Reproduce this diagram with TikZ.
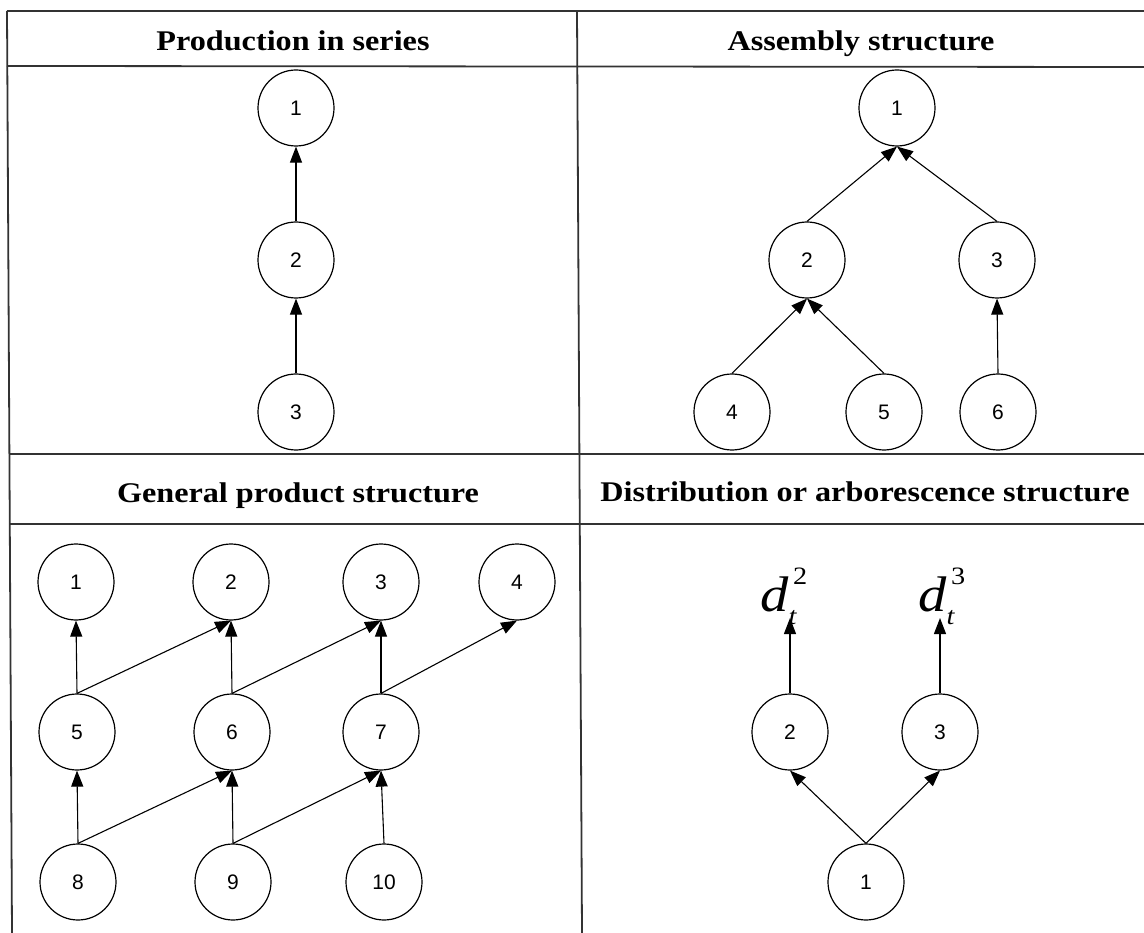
\documentclass[tikz,border=0pt]{standalone}
\usepackage{fontspec}
\usepackage{graphicx}
\setmainfont{Liberation Serif}
\setsansfont{Liberation Sans}
\usetikzlibrary{arrows.meta}

\tikzset{
    station/.style={circle, draw, line width=1.2pt, minimum size=76pt, inner sep=0pt,
        font=\sffamily\fontsize{21}{23}\selectfont},
    arr/.style={-{Triangle[length=16pt,width=12pt]}, line width=1.1pt},
    tableline/.style={line width=1.8pt, black!80},
    head/.style={anchor=base, inner sep=0pt, font=\fontsize{28.5}{32}\selectfont\bfseries},
    demand/.style={anchor=base west, inner sep=0pt, font=\fontsize{50}{54}\selectfont}
}
% stretched text, as in the scanned table
\newcommand{\wide}[1]{\scalebox{1.13}[1]{#1}}
% demand label d_t^k
\newcommand{\dlab}[1]{\textit{d}\kern0pt\rlap{\raisebox{-13pt}{\fontsize{25}{27}\selectfont\itshape t}}\kern4pt\raisebox{27pt}{\fontsize{25}{27}\selectfont #1}}

\begin{document}
\begin{tikzpicture}[x=1pt, y=-1pt]
    \useasboundingbox (0,0) rectangle (1144,933);

    % 1. Table rules
    \draw[tableline] (7,11) -- (1144,11);
    \draw[tableline] (7,66) -- (1144,67);
    \draw[tableline] (9,454) -- (1144,454);
    \draw[tableline] (10,524) -- (1144,524);
    \draw[tableline] (7,11) -- (12,933);
    \draw[tableline] (577,11) -- (582,933);

    % 2. Column headers
    \node[head] (hseries) at (293,51) {\wide{Production in series}};
    \node[head] (hassembly) at (861,51) {\wide{Assembly structure}};
    \node[head] (hgeneral) at (298,502) {\wide{General product structure}};
    \node[head] (hdistrib) at (865,501) {\wide{Distribution or arborescence structure}};

    % 3. Production in series
    \foreach \n/\y in {1/108, 2/260, 3/412}
        \node[station] (s\n) at (296,\y) {\n};
    \draw[arr] (s2.north) -- (s1.south);
    \draw[arr] (s3.north) -- (s2.south);

    % 4. Assembly structure
    \foreach \n/\x/\y in {1/897/108, 2/807/260, 3/997/260, 4/732/412, 5/884/412, 6/998/412}
        \node[station] (a\n) at (\x,\y) {\n};
    \foreach \from/\to in {2/1, 3/1, 4/2, 5/2, 6/3}
        \draw[arr] (a\from.north) -- (a\to.south);

    % 5. General product structure
    \foreach \n/\x/\y in {1/76/582, 2/231/582, 3/381/582, 4/517/582,
                          5/77/732, 6/232/732, 7/381/732,
                          8/78/882, 9/233/882, 10/384/882}
        \node[station] (g\n) at (\x,\y) {\n};
    \foreach \from/\to in {5/1, 5/2, 6/2, 6/3, 7/3, 7/4, 8/5, 8/6, 9/6, 9/7, 10/7}
        \draw[arr] (g\from.north) -- (g\to.south);

    % 6. Distribution or arborescence structure
    \foreach \n/\x/\y in {1/866/882, 2/790/732, 3/940/732}
        \node[station] (d\n) at (\x,\y) {\n};
    \node[demand] (dem2) at (760,611) {\wide{\dlab{2}}};
    \node[demand] (dem3) at (918,611) {\wide{\dlab{3}}};
    \coordinate (tip2) at (790,618);
    \coordinate (tip3) at (940,618);
    \draw[arr] (d2.north) -- (tip2);
    \draw[arr] (d3.north) -- (tip3);
    \draw[arr] (d1.north) -- (d2.south);
    \draw[arr] (d1.north) -- (d3.south);

\end{tikzpicture}
\end{document}
